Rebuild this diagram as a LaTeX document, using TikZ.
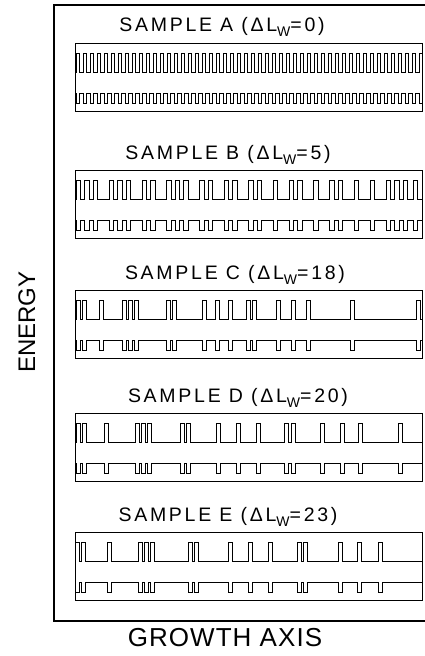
\documentclass[tikz,border=0pt]{standalone}
\usepackage{fontspec}
\setmainfont{Liberation Sans}
\usetikzlibrary{positioning}

\newcommand\wsub{\raisebox{-0.55ex}{\fontsize{14}{14}\selectfont W}}
% both band edges of one sample: box, barrier width, barrier positions
\newcommand\profile[3]{%
  \begin{scope}[shift={(#1.north west)}]
    \draw[trace] (0,29) \foreach \p in {#3} { -- (\p,29) -- (\p,10) -- ++(#2,0) -- ++(0,19) } -- (347,29);
    \draw[trace] (0,50) \foreach \p in {#3} { -- (\p,50) -- (\p,60) -- ++(#2,0) -- ++(0,-10) } -- (347,50);
  \end{scope}}

\begin{document}
\begin{tikzpicture}[
  x=1pt, y=-1pt,
  frame/.style={line width=1.1pt},
  panel/.style={rectangle, draw, line width=1.1pt, minimum width=347pt, minimum height=68pt, inner sep=0pt, anchor=north west},
  tag/.style={font=\fontsize{19.5}{19.5}\selectfont\addfontfeature{LetterSpace=14}, inner sep=0pt, anchor=base},
  axis/.style={font=\fontsize{26}{26}\selectfont\addfontfeature{LetterSpace=4}, inner sep=0pt, anchor=base},
  trace/.style={line width=0.8pt, line join=miter}
]
  \useasboundingbox (0,0) rectangle (425,656);
  \draw[frame] (425,5) -- (54,5) -- (54,621) -- (425,621);

  \node[panel] (boxA) at (75,43) {};
  \node[panel] (boxB) at (75,170) {};
  \node[panel] (boxC) at (75,290) {};
  \node[panel] (boxD) at (75,413) {};
  \node[panel] (boxE) at (75,532) {};

  \node[tag] (tagA) at (222,31) {SAMPLE A (ΔL\wsub=0)};
  \node[tag] (tagB) at (228,159) {SAMPLE B (ΔL\wsub=5)};
  \node[tag] (tagC) at (235,279) {SAMPLE C (ΔL\wsub=18)};
  \node[tag] (tagD) at (238,402) {SAMPLE D (ΔL\wsub=20)};
  \node[tag] (tagE) at (228,521) {SAMPLE E (ΔL\wsub=23)};

  \node[axis] (growth) at (225,646) {GROWTH AXIS};
  \node[axis, rotate=90, font=\fontsize{24}{24}\selectfont] (energy) at (35,322) {ENERGY};

  \profile{boxA}{3.5}{1,8,...,344}
  \profile{boxB}{4.5}{1,9.5,18,34,42.5,51,67,75.5,91.5,100,108.5,124.5,133,149,157.5,173.5,182,198,214,222.5,238.5,254.5,263,279,295,311,319.5,328,338}
  \profile{boxC}{4.5}{1,7,24,47,53,59,91,97,127,140,153,171,177,201,216,231,275,341}
  \profile{boxD}{4.5}{1,7,29,60,66,72,105,111,141,161,181,209,216,245,265,283,323}
  \profile{boxE}{4.5}{0,6,32,63,69,75,113,119,153,173,193,222,228,263,282,303}
\end{tikzpicture}
\end{document}
